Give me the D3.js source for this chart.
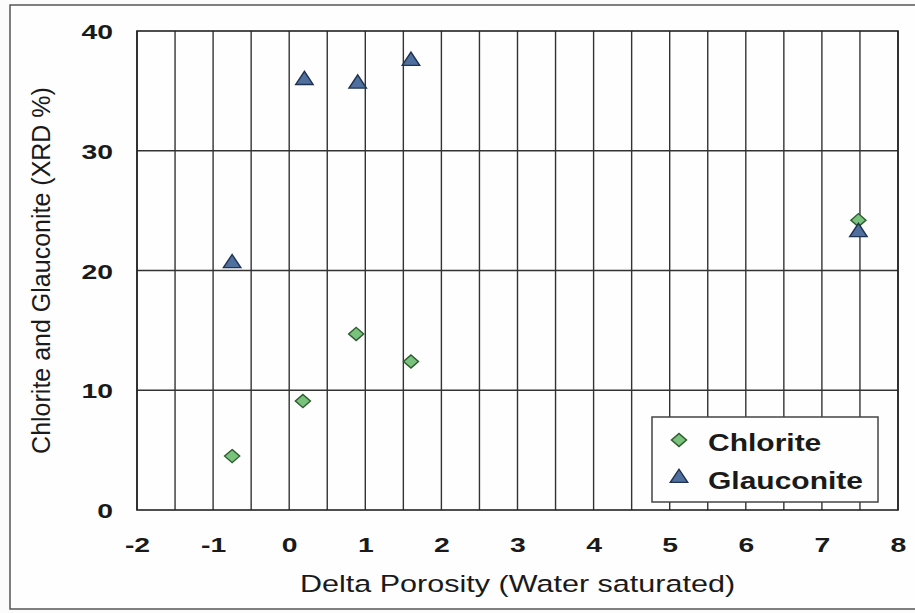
<!DOCTYPE html>
<html>
<head>
<meta charset="utf-8">
<script src="https://cdn.jsdelivr.net/npm/d3@7"></script>
<style>
  body { margin: 0; background: #fcfcfc; }
  text { font-family: "Liberation Sans", Arial, sans-serif; fill: #1a1a1a; }
</style>
</head>
<body>
<div id="chart"></div>
<script>
// --- data ---
const chloriteX = [-0.75, 0.18, 0.88, 1.6, 7.48];
const chloriteY = [4.5, 9.1, 14.7, 12.4, 24.2];
const glauconiteX = [-0.75, 0.2, 0.9, 1.6, 7.48];
const glauconiteY = [20.6, 35.9, 35.6, 37.5, 23.2];

const xTicks = [-2, -1, 0, 1, 2, 3, 4, 5, 6, 7, 8];
const yTicks = [0, 10, 20, 30, 40];
const xGrid = d3.range(-2, 8.01, 0.5);
const yGrid = [10, 20, 30];
const seriesNames = ["Chlorite", "Glauconite"];

const width = 915, height = 613;
const svg = d3.select("#chart").append("svg")
    .attr("width", width)
    .attr("height", height);

const x = d3.scaleLinear().domain([-2, 8]).range([137, 898]);
const y = d3.scaleLinear().domain([0, 40]).range([510, 31]);

// outer frame of the scanned chart
svg.append("rect")
    .attr("x", 10).attr("y", 5)
    .attr("width", 930).attr("height", 604)
    .attr("fill", "#fefefe")
    .attr("stroke", "#555").attr("stroke-width", 1.5);

// grid
svg.append("g").selectAll("line")
    .data(xGrid)
    .join("line")
    .attr("x1", d => x(d)).attr("x2", d => x(d))
    .attr("y1", y(0)).attr("y2", y(40))
    .attr("stroke", "#333").attr("stroke-width", 1.4);

svg.append("g").selectAll("line")
    .data(yGrid)
    .join("line")
    .attr("x1", x(-2)).attr("x2", x(8))
    .attr("y1", d => y(d)).attr("y2", d => y(d))
    .attr("stroke", "#333").attr("stroke-width", 1.4);

// plot border
svg.append("rect")
    .attr("x", x(-2)).attr("y", y(40))
    .attr("width", x(8) - x(-2)).attr("height", y(0) - y(40))
    .attr("fill", "none")
    .attr("stroke", "#222").attr("stroke-width", 1.6);

// axes (labels only) - plain hyphen for negatives like the original
const xAxis = svg.append("g")
    .attr("transform", `translate(0,${y(0)})`)
    .call(d3.axisBottom(x).tickValues(xTicks).tickSize(0).tickFormat(d => String(d)));
xAxis.select(".domain").remove();
xAxis.selectAll("text")
    .attr("y", 42).attr("dy", null)
    .attr("transform", "scale(1.35,1)")
    .style("font-size", "21px").style("font-weight", "bold")
    .attr("fill", "#1a1a1a");

const yAxis = svg.append("g")
    .attr("transform", "translate(113,0)")
    .call(d3.axisLeft(y).tickValues(yTicks).tickSize(0).tickFormat(d => String(d)));
yAxis.select(".domain").remove();
yAxis.selectAll("text")
    .attr("x", 0).attr("dy", "0.36em")
    .attr("transform", "scale(1.35,1)")
    .style("font-size", "21px").style("font-weight", "bold")
    .attr("fill", "#1a1a1a");

// axis titles
svg.append("text")
    .attr("transform", `translate(${(x(-2) + x(8)) / 2},592) scale(1.3,1)`)
    .attr("text-anchor", "middle")
    .style("font-size", "23.5px")
    .text("Delta Porosity (Water saturated)");

svg.append("text")
    .attr("transform", `translate(50,${(y(0) + y(40)) / 2}) rotate(-90)`)
    .attr("text-anchor", "middle")
    .style("font-size", "25px")
    .text("Chlorite and Glauconite (XRD %)");

// markers
const diamond = d3.symbol().type(d3.symbolDiamond2).size(110);
const triangle = d3.symbol().type(d3.symbolTriangle).size(100);
const styles = [
  { sym: diamond, fill: "#79c27c", stroke: "#2e5a30" },
  { sym: triangle, fill: "#4f6f9e", stroke: "#1f3350" }
];

svg.append("g").selectAll("path")
    .data(chloriteX.map((d, i) => [d, chloriteY[i]]))
    .join("path")
    .attr("d", styles[0].sym)
    .attr("transform", d => `translate(${x(d[0])},${y(d[1])}) scale(1.15,1)`)
    .attr("fill", styles[0].fill).attr("stroke", styles[0].stroke).attr("stroke-width", 1.3);

svg.append("g").selectAll("path")
    .data(glauconiteX.map((d, i) => [d, glauconiteY[i]]))
    .join("path")
    .attr("d", styles[1].sym)
    .attr("transform", d => `translate(${x(d[0])},${y(d[1])}) scale(1.15,1)`)
    .attr("fill", styles[1].fill).attr("stroke", styles[1].stroke).attr("stroke-width", 1.3);

// legend
const legend = svg.append("g");
legend.append("rect")
    .attr("x", 652).attr("y", 417)
    .attr("width", 226).attr("height", 85)
    .attr("fill", "#fefefe")
    .attr("stroke", "#444").attr("stroke-width", 1.5);

const rows = legend.selectAll("g.row")
    .data(seriesNames)
    .join("g")
    .attr("class", "row")
    .attr("transform", (d, i) => `translate(679,${440 + i * 38})`);

rows.append("path")
    .attr("d", (d, i) => styles[i].sym())
    .attr("transform", "scale(1.15,1)")
    .attr("fill", (d, i) => styles[i].fill)
    .attr("stroke", (d, i) => styles[i].stroke)
    .attr("stroke-width", 1.3);

rows.append("text")
    .attr("transform", "translate(29,11) scale(1.25,1)")
    .style("font-size", "24px").style("font-weight", "bold")
    .text(d => d);
</script>
</body>
</html>
